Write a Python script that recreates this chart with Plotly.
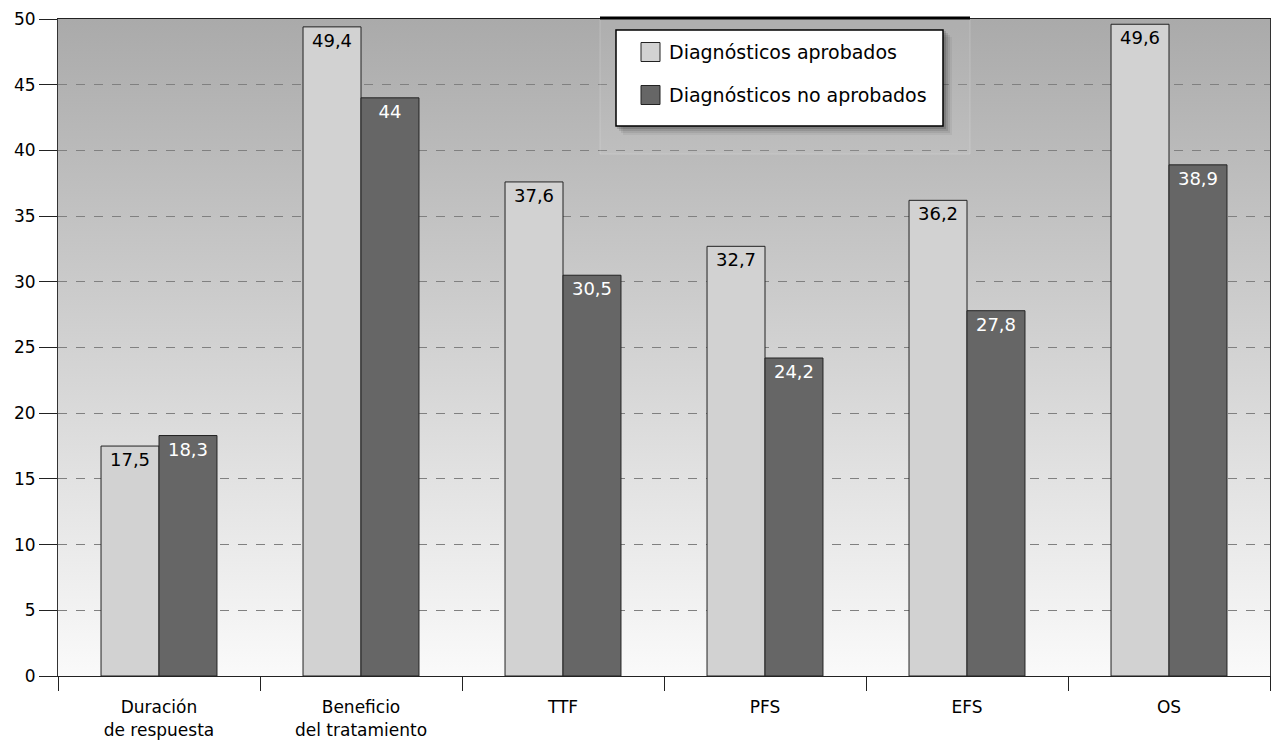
import base64
import plotly.graph_objects as go

categories = ["Duración<br>de respuesta", "Beneficio<br>del tratamiento", "TTF", "PFS", "EFS", "OS"]
aprobados = [17.5, 49.4, 37.6, 32.7, 36.2, 49.6]
no_aprobados = [18.3, 44, 30.5, 24.2, 27.8, 38.9]
series_names = ["Diagnósticos aprobados", "Diagnósticos no aprobados"]
series_colors = ["#d2d2d2", "#666666"]
y_ticks = list(range(0, 55, 5))

FONT = "DejaVu Sans"
W, H = 1273, 745
M_L, M_R, M_T, M_B = 58, 3, 19, 69
PW, PH = W - M_L - M_R, H - M_T - M_B


def fmt(v):
    return f"{v:g}".replace(".", ",")


def px_x(px):
    return (px - M_L) / PW


def px_y(py):
    return (H - M_B - py) / PH


fig = go.Figure()
for name, vals, col, tcol in [
    (series_names[0], aprobados, series_colors[0], "black"),
    (series_names[1], no_aprobados, series_colors[1], "white"),
]:
    fig.add_trace(go.Bar(
        name=name, x=categories, y=vals,
        marker=dict(color=col, line=dict(color="#222222", width=1)),
        text=[fmt(v) for v in vals], textposition="inside",
        insidetextanchor="end", textangle=0,
        textfont=dict(color=tcol, size=18, family=FONT),
        constraintext="none", showlegend=False,
    ))

# vertical grey gradient behind the plot area
svg = (
    '<svg xmlns="http://www.w3.org/2000/svg" width="100" height="100" '
    'viewBox="0 0 100 100" preserveAspectRatio="none">'
    '<defs><linearGradient id="g" x1="0" y1="0" x2="0" y2="1">'
    '<stop offset="0" stop-color="#aaaaaa"/>'
    '<stop offset="1" stop-color="#fafafa"/>'
    '</linearGradient></defs>'
    '<rect width="100" height="100" fill="url(#g)"/></svg>'
)
bg_src = "data:image/svg+xml;base64," + base64.b64encode(svg.encode()).decode()

shapes = []
annotations = []

# translucent panel behind the legend
shapes.append(dict(type="rect", xref="paper", yref="paper",
                   x0=px_x(600), x1=px_x(970), y0=px_y(154), y1=1.0,
                   fillcolor="rgba(255,255,255,0.06)",
                   line=dict(color="rgba(255,255,255,0.18)", width=1), layer="above"))
shapes.append(dict(type="line", xref="paper", yref="paper",
                   x0=px_x(600), x1=px_x(970), y0=px_y(18), y1=px_y(18),
                   line=dict(color="black", width=3), layer="above"))

# legend box with soft drop shadow
lx0, lx1, ly0, ly1 = 616, 943, 30, 126
for k, a in [(9, 0.05), (7, 0.07), (5, 0.10), (3, 0.14)]:
    shapes.append(dict(type="rect", xref="paper", yref="paper",
                       x0=px_x(lx0 + k - 2), x1=px_x(lx1 + k), y0=px_y(ly1 + k), y1=px_y(ly0 + k - 2),
                       fillcolor=f"rgba(0,0,0,{a})", line=dict(width=0), layer="above"))
shapes.append(dict(type="rect", xref="paper", yref="paper",
                   x0=px_x(lx0), x1=px_x(lx1), y0=px_y(ly1), y1=px_y(ly0),
                   fillcolor="white", line=dict(color="black", width=1.5), layer="above"))
for i, (name, col) in enumerate(zip(series_names, series_colors)):
    cy = 52 + i * 43
    shapes.append(dict(type="rect", xref="paper", yref="paper",
                       x0=px_x(641), x1=px_x(660), y0=px_y(cy + 9.5), y1=px_y(cy - 9.5),
                       fillcolor=col, line=dict(color="#222222", width=1), layer="above"))
    annotations.append(dict(xref="paper", yref="paper", x=px_x(667), y=px_y(cy),
                            xanchor="left", yanchor="middle", showarrow=False,
                            text=name, font=dict(size=19, family=FONT, color="black")))

fig.update_layout(
    width=W, height=H,
    margin=dict(l=M_L, r=M_R, t=M_T, b=M_B),
    paper_bgcolor="white",
    plot_bgcolor="rgba(0,0,0,0)",
    barmode="group", bargap=0.426, bargroupgap=0,
    font=dict(family=FONT, size=17, color="black"),
    showlegend=False,
    images=[dict(source=bg_src, xref="paper", yref="paper", x=0, y=1,
                 sizex=1, sizey=1, xanchor="left", yanchor="top",
                 sizing="stretch", layer="below")],
    shapes=shapes,
    annotations=annotations,
    xaxis=dict(
        showline=True, linecolor="#222222", linewidth=1, mirror=True,
        ticks="outside", tickson="boundaries", ticklen=14, tickcolor="#222222",
        tickfont=dict(size=17, family=FONT), showgrid=False,
        ticklabelstandoff=16,
    ),
    yaxis=dict(
        range=[0, 50], tickvals=y_ticks, ticktext=[str(v) for v in y_ticks],
        showline=True, linecolor="#333333", linewidth=1, mirror=True,
        ticks="outside", ticklen=18, tickcolor="#222222",
        tickfont=dict(size=17, family=FONT),
        showgrid=True, gridcolor="#808080", griddash="dash", gridwidth=1,
        zeroline=False,
    ),
)

fig.write_html("out.html")
